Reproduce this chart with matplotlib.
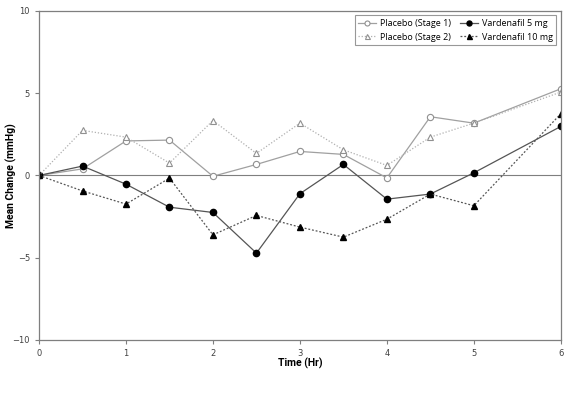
import matplotlib
matplotlib.use('Agg')
import matplotlib.pyplot as plt

hours = [0, 0.5, 1, 1.5, 2, 2.5, 3, 3.5, 4, 4.5, 5, 6]
placebo1 = [0, 0.4, 2.1, 2.15, -0.05, 0.67, 1.46, 1.28, -0.15, 3.57, 3.18, 5.27]
placebo2 = [0, 2.74, 2.33, 0.75, 3.34, 1.34, 3.18, 1.56, 0.61, 2.33, 3.18, 5.07]
varden5 = [0, 0.57, -0.53, -1.93, -2.25, -4.72, -1.11, 0.67, -1.44, -1.13, 0.16, 2.98]
varden10 = [0, -0.94, -1.74, -0.16, -3.61, -2.43, -3.14, -3.75, -2.66, -1.13, -1.84, 3.75]

fig = plt.figure(figsize=(5.74, 3.99), dpi=100)
ax = fig.add_axes([0.068, 0.148, 0.909, 0.8245])

ax.axhline(0, color='#7f7f7f', lw=0.8, zorder=1)

ax.plot(hours, placebo1, color='#a0a0a0', lw=0.9, marker='o', ms=4.5,
        mfc='white', mec='#909090', mew=0.8, label='Placebo (Stage 1)')
ax.plot(hours, varden5, color='#555555', lw=0.9, marker='o', ms=4.5,
        mfc='black', mec='black', label='Vardenafil 5 mg')
ax.plot(hours, placebo2, color='#b0b0b0', lw=0.9, ls=(0, (1, 1.5)), marker='^', ms=4.5,
        mfc='white', mec='#909090', mew=0.8, label='Placebo (Stage 2)')
ax.plot(hours, varden10, color='#555555', lw=0.9, ls=(0, (1.5, 1.5)), marker='^', ms=4.5,
        mfc='black', mec='black', label='Vardenafil 10 mg')

ax.set_xlim(0, 6)
ax.set_ylim(-10, 10)
ax.set_xticks(range(7))
ax.set_yticks([-10, -5, 0, 5, 10])
for s in ax.spines.values():
    s.set_color('#7f7f7f')
    s.set_linewidth(0.9)
ax.tick_params(axis='both', labelsize=6, colors='#7f7f7f', labelcolor='#404040',
               length=3, width=0.8, direction='out')

ax.set_xlabel('Time (Hr)', fontsize=7.5, fontweight='bold', family='Roboto')
ax.set_ylabel('Mean Change (mmHg)', fontsize=7.5, fontweight='bold', family='Roboto')
ax.yaxis.set_label_coords(-0.042, 0.5)
ax.xaxis.set_label_coords(0.5, -0.055)

handles, labels = ax.get_legend_handles_labels()
order = [0, 2, 1, 3]
leg = ax.legend([handles[i] for i in order], [labels[i] for i in order],
                loc='upper right', ncol=2, frameon=True, fancybox=False,
                edgecolor='#7f7f7f', markerscale=0.8, handlelength=2.0,
                handletextpad=0.4, columnspacing=1.0, borderaxespad=0.5,
                prop={'family': 'Open Sans', 'size': 6.5})
leg.get_frame().set_linewidth(0.8)

plt.savefig('out.png', dpi=100)
